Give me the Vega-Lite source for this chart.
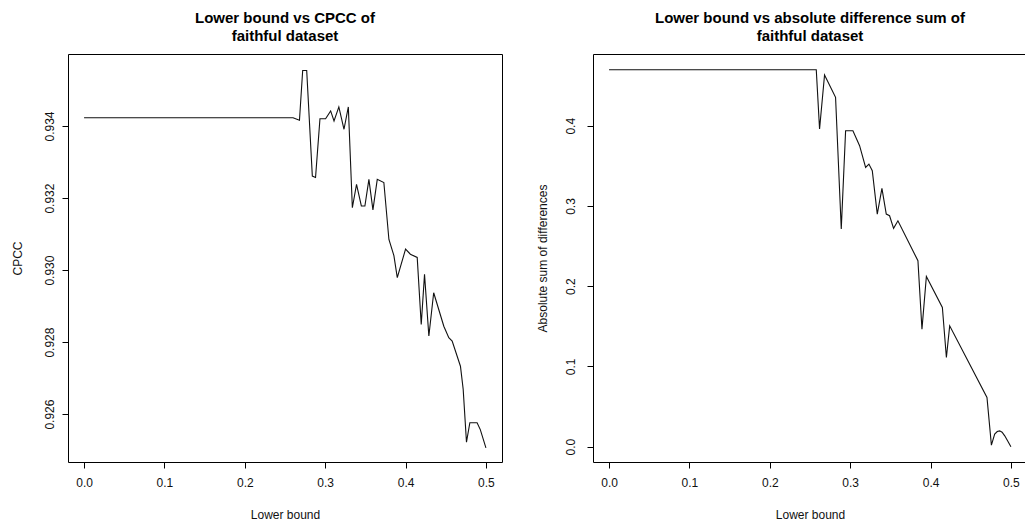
{
  "$schema": "https://vega.github.io/schema/vega-lite/v6.json",
  "padding": {"left": 10, "top": 10, "right": 0, "bottom": 0},
  "bounds": "flush",
  "spacing": 91,
  "background": "white",
  "config": {
    "font": "Liberation Sans",
    "view": {"stroke": "#000", "strokeWidth": 1},
    "axis": {"domain": false, "grid": false, "ticks": true, "tickColor": "#000", "tickSize": 6, "labelFont": "Liberation Sans", "labelFontSize": 12, "labelColor": "#111", "titleFont": "Liberation Sans", "titleFontSize": 12, "titleFontWeight": "normal", "titleColor": "#111"},
    "title": {"font": "Liberation Sans", "fontSize": 15, "fontWeight": "bold", "lineHeight": 18, "offset": 10, "color": "#000", "anchor": "middle"}
  },
  "datasets": {
    "cpcc": [
      {"lb": 0, "v": 0.93423}, {"lb": 0.05, "v": 0.93423}, {"lb": 0.1, "v": 0.93423}, {"lb": 0.15, "v": 0.93423}, {"lb": 0.2, "v": 0.93423}, {"lb": 0.25, "v": 0.93423}, {"lb": 0.26, "v": 0.93423},
      {"lb": 0.268, "v": 0.93416}, {"lb": 0.272, "v": 0.93554}, {"lb": 0.277, "v": 0.93554}, {"lb": 0.284, "v": 0.93261}, {"lb": 0.288, "v": 0.93257},
      {"lb": 0.2935, "v": 0.9342}, {"lb": 0.3005, "v": 0.9342}, {"lb": 0.3068, "v": 0.93442}, {"lb": 0.311, "v": 0.93414}, {"lb": 0.317, "v": 0.93453},
      {"lb": 0.3234, "v": 0.93391}, {"lb": 0.3288, "v": 0.93453}, {"lb": 0.3338, "v": 0.93173}, {"lb": 0.339, "v": 0.93238}, {"lb": 0.345, "v": 0.93178},
      {"lb": 0.3494, "v": 0.93178}, {"lb": 0.3544, "v": 0.93252}, {"lb": 0.3594, "v": 0.93167}, {"lb": 0.3648, "v": 0.93252}, {"lb": 0.373, "v": 0.93243},
      {"lb": 0.3793, "v": 0.93085}, {"lb": 0.3855, "v": 0.9304}, {"lb": 0.3897, "v": 0.92979}, {"lb": 0.4, "v": 0.93058}, {"lb": 0.406, "v": 0.93044},
      {"lb": 0.4145, "v": 0.93035}, {"lb": 0.4195, "v": 0.92849}, {"lb": 0.4236, "v": 0.92988}, {"lb": 0.429, "v": 0.92817}, {"lb": 0.435, "v": 0.92937},
      {"lb": 0.4476, "v": 0.92844}, {"lb": 0.4538, "v": 0.92812}, {"lb": 0.458, "v": 0.92803}, {"lb": 0.4683, "v": 0.92733}, {"lb": 0.4717, "v": 0.92669},
      {"lb": 0.4758, "v": 0.92522}, {"lb": 0.48, "v": 0.92576}, {"lb": 0.489, "v": 0.92576}, {"lb": 0.493, "v": 0.92557}, {"lb": 0.5, "v": 0.92506}
    ],
    "absdiff": [
      {"lb": 0, "v": 0.4698}, {"lb": 0.05, "v": 0.4698}, {"lb": 0.1, "v": 0.4698}, {"lb": 0.15, "v": 0.4698}, {"lb": 0.2, "v": 0.4698}, {"lb": 0.25, "v": 0.4698}, {"lb": 0.2578, "v": 0.4698},
      {"lb": 0.2619, "v": 0.3959}, {"lb": 0.2681, "v": 0.4632}, {"lb": 0.2818, "v": 0.4354}, {"lb": 0.2889, "v": 0.2712}, {"lb": 0.2943, "v": 0.3938},
      {"lb": 0.3034, "v": 0.3938}, {"lb": 0.3117, "v": 0.3751}, {"lb": 0.3192, "v": 0.3481}, {"lb": 0.3233, "v": 0.3522}, {"lb": 0.3275, "v": 0.3439},
      {"lb": 0.3337, "v": 0.2899}, {"lb": 0.3395, "v": 0.3219}, {"lb": 0.3449, "v": 0.2899}, {"lb": 0.349, "v": 0.2878}, {"lb": 0.354, "v": 0.2721},
      {"lb": 0.3594, "v": 0.2815}, {"lb": 0.3843, "v": 0.2317}, {"lb": 0.3893, "v": 0.1465}, {"lb": 0.3948, "v": 0.2122}, {"lb": 0.4147, "v": 0.1736},
      {"lb": 0.4197, "v": 0.1112}, {"lb": 0.4238, "v": 0.1506}, {"lb": 0.4702, "v": 0.0614}, {"lb": 0.4757, "v": 0.0019}, {"lb": 0.4798, "v": 0.0156},
      {"lb": 0.483, "v": 0.0188}, {"lb": 0.486, "v": 0.0197}, {"lb": 0.489, "v": 0.018}, {"lb": 0.4923, "v": 0.0135}, {"lb": 0.496, "v": 0.007}, {"lb": 0.5, "v": 0.0}
    ]
  },
  "hconcat": [
    {
      "width": 434,
      "height": 408,
      "title": {"text": ["Lower bound vs CPCC of", "faithful dataset"]},
      "data": {"name": "cpcc"},
      "mark": {"type": "line", "color": "#111", "strokeWidth": 1.1, "clip": true},
      "encoding": {
        "x": {"field": "lb", "type": "quantitative", "title": "Lower bound",
              "scale": {"domain": [-0.02, 0.52], "nice": false, "zero": false},
              "axis": {"values": [0, 0.1, 0.2, 0.3, 0.4, 0.5], "format": ".1f", "labelPadding": 9, "titlePadding": 21}},
        "y": {"field": "v", "type": "quantitative", "title": "CPCC",
              "scale": {"domain": [0.92467, 0.936], "nice": false, "zero": false},
              "axis": {"values": [0.926, 0.928, 0.93, 0.932, 0.934], "format": ".3f", "labelAngle": -90, "labelAlign": "center", "labelBaseline": "bottom", "labelPadding": 6, "titlePadding": 19}}
      }
    },
    {
      "width": 434,
      "height": 408,
      "title": {"text": ["Lower bound vs absolute difference sum of", "faithful dataset"]},
      "data": {"name": "absdiff"},
      "mark": {"type": "line", "color": "#111", "strokeWidth": 1.1, "clip": true},
      "encoding": {
        "x": {"field": "lb", "type": "quantitative", "title": "Lower bound",
              "scale": {"domain": [-0.02, 0.52], "nice": false, "zero": false},
              "axis": {"values": [0, 0.1, 0.2, 0.3, 0.4, 0.5], "format": ".1f", "labelPadding": 9, "titlePadding": 21}},
        "y": {"field": "v", "type": "quantitative", "title": "Absolute sum of differences",
              "scale": {"domain": [-0.0191, 0.4894], "nice": false, "zero": false},
              "axis": {"values": [0, 0.1, 0.2, 0.3, 0.4], "format": ".1f", "labelAngle": -90, "labelAlign": "center", "labelBaseline": "bottom", "labelPadding": 10, "titlePadding": 15}}
      }
    }
  ]
}
